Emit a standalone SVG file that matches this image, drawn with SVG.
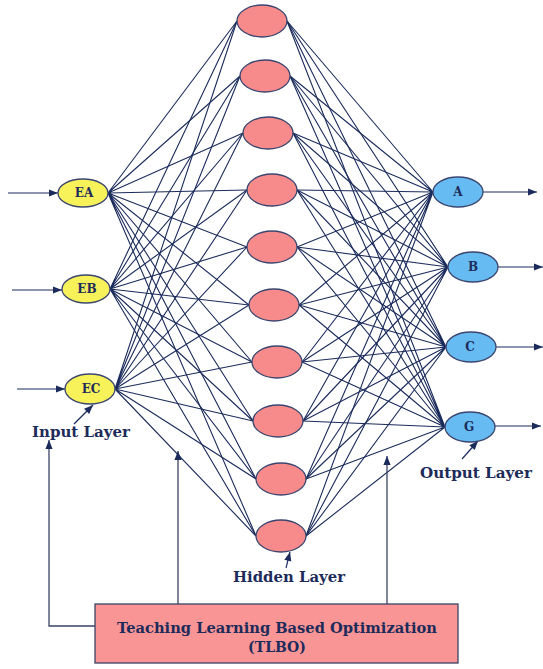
<svg xmlns="http://www.w3.org/2000/svg" width="543" height="669" viewBox="0 0 543 669">
<defs>
<marker id="ah" viewBox="0 0 10 10" refX="10" refY="5" markerWidth="11" markerHeight="9" markerUnits="userSpaceOnUse" orient="auto">
<path d="M0 1 L10 5 L0 9 Z" fill="#1b2c5c"/>
</marker>
<style>
.conn{stroke:#1b2c5c;stroke-width:1.1;fill:none}
.arr{stroke:#1b2c5c;stroke-width:1.2;fill:none;marker-end:url(#ah)}
.fb{stroke:#3a4466;stroke-width:1.3;fill:none;marker-end:url(#ah)}
.in{fill:#f8f25a;stroke:#3b4670;stroke-width:1.3}
.hid{fill:#f78b8b;stroke:#3b4670;stroke-width:1.3}
.out{fill:#66bcf2;stroke:#3b4670;stroke-width:1.3}
.lbl{font-family:"DejaVu Serif","Liberation Serif",serif;font-weight:bold;fill:#1d2b5a;text-anchor:middle}
.nl{font-size:12px}
.ll{font-size:14px}
</style>
</defs>
<rect width="543" height="669" fill="#ffffff"/>
<g id="connectors">
<path class="conn" d="M108 193 L237 21 M108 193 L240 76 M108 193 L243 133 M108 193 L247 190 M108 193 L247 247 M108 193 L249 305 M108 193 L252 362 M108 193 L253 421 M108 193 L256 479 M108 193 L256 536"/>
<path class="conn" d="M110 289 L237 21 M110 289 L240 76 M110 289 L243 133 M110 289 L247 190 M110 289 L247 247 M110 289 L249 305 M110 289 L252 362 M110 289 L253 421 M110 289 L256 479 M110 289 L256 536"/>
<path class="conn" d="M115 389 L237 21 M115 389 L240 76 M115 389 L243 133 M115 389 L247 190 M115 389 L247 247 M115 389 L249 305 M115 389 L252 362 M115 389 L253 421 M115 389 L256 479 M115 389 L256 536"/>
<path class="conn" d="M287 21 L433 192 M290 76 L433 192 M293 133 L433 192 M297 190 L433 192 M297 247 L433 192 M299 305 L433 192 M302 362 L433 192 M303 421 L433 192 M306 479 L433 192 M306 536 L433 192"/>
<path class="conn" d="M287 21 L448 267 M290 76 L448 267 M293 133 L448 267 M297 190 L448 267 M297 247 L448 267 M299 305 L448 267 M302 362 L448 267 M303 421 L448 267 M306 479 L448 267 M306 536 L448 267"/>
<path class="conn" d="M287 21 L446 347 M290 76 L446 347 M293 133 L446 347 M297 190 L446 347 M297 247 L446 347 M299 305 L446 347 M302 362 L446 347 M303 421 L446 347 M306 479 L446 347 M306 536 L446 347"/>
<path class="conn" d="M287 21 L445 427 M290 76 L445 427 M293 133 L445 427 M297 190 L445 427 M297 247 L445 427 M299 305 L445 427 M302 362 L445 427 M303 421 L445 427 M306 479 L445 427 M306 536 L445 427"/>
<line class="arr" x1="8" y1="193" x2="58" y2="193"/>
<line class="arr" x1="12" y1="290" x2="62" y2="290"/>
<line class="arr" x1="17" y1="389" x2="65" y2="389"/>
<line class="arr" x1="483" y1="192" x2="537" y2="192"/>
<line class="arr" x1="498" y1="267" x2="543" y2="267"/>
<line class="arr" x1="496" y1="347" x2="543" y2="347"/>
<line class="arr" x1="495" y1="426" x2="541" y2="426"/>
<line class="arr" x1="74" y1="424" x2="93" y2="405"/>
<line class="arr" x1="462" y1="459" x2="478" y2="441"/>
<line class="arr" x1="286" y1="568" x2="290" y2="552"/>
<polyline class="fb" points="95,626 49,626 49,440"/>
<line class="fb" x1="178" y1="604" x2="178" y2="451"/>
<line class="fb" x1="387" y1="604" x2="387" y2="456"/>
</g>
<g id="EA"><ellipse class="in" cx="83" cy="193" rx="25" ry="14"/><text class="lbl nl" x="84" y="197">EA</text></g>
<g id="EB"><ellipse class="in" cx="86" cy="289" rx="24" ry="14"/><text class="lbl nl" x="87" y="293">EB</text></g>
<g id="EC"><ellipse class="in" cx="90" cy="389" rx="25" ry="15"/><text class="lbl nl" x="91" y="393">EC</text></g>
<g id="H1"><ellipse class="hid" cx="262" cy="21" rx="25" ry="16"/></g>
<g id="H2"><ellipse class="hid" cx="265" cy="76" rx="25" ry="16"/></g>
<g id="H3"><ellipse class="hid" cx="268" cy="133" rx="25" ry="16"/></g>
<g id="H4"><ellipse class="hid" cx="272" cy="190" rx="25" ry="16"/></g>
<g id="H5"><ellipse class="hid" cx="272" cy="247" rx="25" ry="16"/></g>
<g id="H6"><ellipse class="hid" cx="274" cy="305" rx="25" ry="16"/></g>
<g id="H7"><ellipse class="hid" cx="277" cy="362" rx="25" ry="16"/></g>
<g id="H8"><ellipse class="hid" cx="278" cy="421" rx="25" ry="16"/></g>
<g id="H9"><ellipse class="hid" cx="281" cy="479" rx="25" ry="16"/></g>
<g id="H10"><ellipse class="hid" cx="281" cy="536" rx="25" ry="16"/></g>
<g id="A"><ellipse class="out" cx="458" cy="192" rx="25" ry="15"/><text class="lbl nl" x="458" y="196">A</text></g>
<g id="B"><ellipse class="out" cx="473" cy="267" rx="25" ry="15"/><text class="lbl nl" x="473" y="271">B</text></g>
<g id="C"><ellipse class="out" cx="471" cy="347" rx="25" ry="15"/><text class="lbl nl" x="470" y="351">C</text></g>
<g id="G"><ellipse class="out" cx="470" cy="427" rx="25" ry="15"/><text class="lbl nl" x="469" y="431">G</text></g>
<g id="labels">
<text class="lbl ll" x="81" y="437" textLength="98" lengthAdjust="spacingAndGlyphs">Input Layer</text>
<text class="lbl ll" x="476" y="478" textLength="112" lengthAdjust="spacingAndGlyphs">Output Layer</text>
<text class="lbl ll" x="289" y="582" textLength="112" lengthAdjust="spacingAndGlyphs">Hidden Layer</text>
</g>
<g id="TLBO">
<rect x="95" y="604" width="363" height="59" fill="#f99595" stroke="#3a4466" stroke-width="1.3"/>
<text class="lbl ll" x="277" y="633" textLength="320" lengthAdjust="spacingAndGlyphs">Teaching Learning Based Optimization</text>
<text class="lbl ll" x="277" y="652">(TLBO)</text>
</g>
</svg>
